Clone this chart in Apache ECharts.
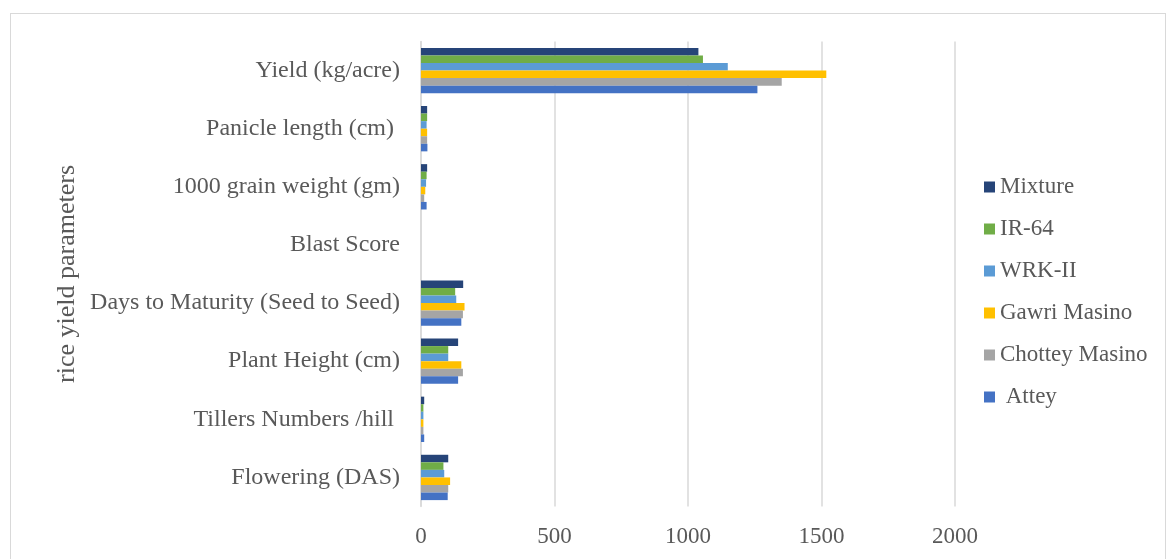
<!DOCTYPE html>
<html>
<head>
<meta charset="utf-8">
<script src="https://cdn.jsdelivr.net/npm/echarts@6/dist/echarts.min.js"></script>
<style>
  html, body { margin: 0; padding: 0; background: #fff; }
  #frame { position: absolute; left: 10px; top: 13px; width: 1156px; height: 560px; border: 1px solid #d9d9d9; box-sizing: border-box; }
  #main { position: absolute; left: 0; top: 0; width: 1167px; height: 559px; }
</style>
</head>
<body>
<div id="frame"></div>
<div id="main"></div>
<script>
// categories, bottom to top as on the chart
const categories = ['Flowering (DAS)', 'Tillers Numbers /hill ', 'Plant Height (cm)', 'Days to Maturity (Seed to Seed)',
  'Blast Score', '1000 grain weight (gm)', 'Panicle length (cm) ', 'Yield (kg/acre)'];
const xTicks = [0, 500, 1000, 1500, 2000];

// values per variety, same order as categories
const attey   = [100, 12, 139, 151, 0, 21, 24, 1260];
const chottey = [102, 9, 157, 157, 0, 12, 23, 1351];
const gawri   = [109, 9, 151, 163, 0, 16, 23, 1518];
const wrk     = [87, 9, 102, 132, 0, 19, 21, 1149];
const ir64    = [84, 9, 102, 128, 0, 21, 23, 1056];
const mixture = [102, 12, 139, 158, 0, 23, 23, 1039];

// first series is drawn on top inside each category
const seriesList = [
  { name: 'Mixture', data: mixture, color: '#264478' },
  { name: 'IR-64', data: ir64, color: '#70AD47' },
  { name: 'WRK-II', data: wrk, color: '#5B9BD5' },
  { name: 'Gawri Masino', data: gawri, color: '#FFC000' },
  { name: 'Chottey Masino', data: chottey, color: '#A5A5A5' },
  { name: ' Attey', data: attey, color: '#4472C4' }
];

const font = '"Liberation Serif", "DejaVu Serif", serif';
const chart = echarts.init(document.getElementById('main'));

const option = {
  animation: false,
  textStyle: { fontFamily: font },
  grid: { left: 421, right: 212, top: 41.5, bottom: 52.5 },
  legend: {
    orient: 'vertical',
    left: 979,
    top: 170,
    itemWidth: 11,
    itemHeight: 11,
    itemGap: 18,
    icon: 'rect',
    data: seriesList.map(s => s.name),
    textStyle: { fontFamily: font, fontSize: 23, color: '#595959', lineHeight: 24 }
  },
  xAxis: {
    type: 'value',
    min: xTicks[0],
    max: xTicks[xTicks.length - 1],
    interval: xTicks[1] - xTicks[0],
    axisLine: { show: false },
    axisTick: { show: false },
    splitLine: { lineStyle: { color: '#d9d9d9', width: 1.5 } },
    axisLabel: { fontFamily: font, fontSize: 23, color: '#595959', margin: 19, formatter: v => String(v) }
  },
  yAxis: {
    type: 'category',
    data: categories,
    name: 'rice yield parameters',
    nameLocation: 'middle',
    nameGap: 341,
    nameRotate: 90,
    nameTextStyle: { fontFamily: font, fontSize: 26, color: '#595959' },
    axisLine: { lineStyle: { color: '#d9d9d9', width: 1.5 } },
    axisTick: { length: 6, lineStyle: { color: '#d9d9d9', width: 1.5 } },
    axisLabel: { fontFamily: font, fontSize: 24, color: '#595959', margin: 21 }
  },
  series: seriesList.map(s => ({
    name: s.name,
    type: 'bar',
    data: s.data,
    barGap: '0%',
    barCategoryGap: '22%',
    itemStyle: { color: s.color }
  }))
};

chart.setOption(option);
</script>
</body>
</html>
